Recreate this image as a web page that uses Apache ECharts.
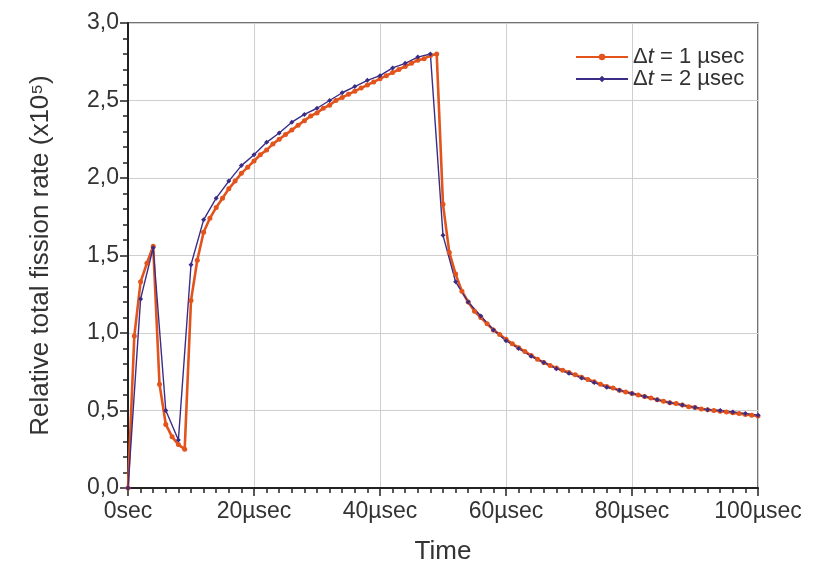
<!DOCTYPE html>
<html>
<head>
<meta charset="utf-8">
<script src="https://cdn.jsdelivr.net/npm/echarts@6/dist/echarts.min.js"></script>
<style>
html,body{margin:0;padding:0;background:#fff;}
#main{width:838px;height:565px;}
</style>
</head>
<body>
<div id="main"></div>
<script>
// dt = 1 usec, one value per usec from 0 to 100
var rate1 = [0, 0.98, 1.33, 1.45, 1.56, 0.67, 0.41, 0.33, 0.28, 0.25,
    1.21, 1.47, 1.65, 1.74, 1.81, 1.87, 1.93, 1.98, 2.03, 2.07,
    2.11, 2.15, 2.18, 2.22, 2.25, 2.28, 2.31, 2.34, 2.37, 2.40,
    2.42, 2.45, 2.47, 2.50, 2.52, 2.54, 2.56, 2.58, 2.60, 2.62,
    2.64, 2.66, 2.68, 2.70, 2.72, 2.74, 2.76, 2.77, 2.79, 2.80,
    1.83, 1.52, 1.38, 1.27, 1.20, 1.14, 1.10, 1.06, 1.02, 0.99,
    0.96, 0.93, 0.905, 0.88, 0.855, 0.83, 0.81, 0.79, 0.775, 0.76,
    0.745, 0.73, 0.715, 0.70, 0.685, 0.67, 0.655, 0.645, 0.63, 0.62,
    0.61, 0.60, 0.59, 0.58, 0.57, 0.56, 0.55, 0.545, 0.535, 0.525,
    0.52, 0.51, 0.505, 0.50, 0.495, 0.49, 0.485, 0.48, 0.475, 0.47,
    0.465];
// dt = 2 usec, one value every 2 usec from 0 to 100
var rate2 = [0, 1.22, 1.55, 0.50, 0.31, 1.44, 1.73, 1.87, 1.98, 2.08,
    2.15, 2.23, 2.29, 2.36, 2.41, 2.45, 2.50, 2.55, 2.59, 2.63,
    2.66, 2.71, 2.74, 2.78, 2.80, 1.63, 1.33, 1.20, 1.11, 1.02,
    0.95, 0.90, 0.85, 0.81, 0.77, 0.74, 0.71, 0.68, 0.65, 0.63,
    0.61, 0.59, 0.57, 0.55, 0.535, 0.52, 0.505, 0.50, 0.49, 0.48,
    0.47];
var step1 = 1, step2 = 2;
var names = ['dt1', 'dt2'];
var legendText = {dt1: '{a|\u0394}{i|t}{a| = 1 \u00b5sec}', dt2: '{a|\u0394}{i|t}{a| = 2 \u00b5sec}'};
var colors = ['#e2541c', '#3b2c86'];

function toPairs(vals, step) {
    var out = [];
    for (var i = 0; i < vals.length; i++) {
        out.push([i * step, vals[i]]);
    }
    return out;
}

var font = 'Liberation Sans';
var myChart = echarts.init(document.getElementById('main'));
var option = {
    backgroundColor: '#fff',
    animation: false,
    textStyle: {fontFamily: font},
    grid: {
        left: 128, right: 80, top: 23, bottom: 77,
        outerBoundsMode: 'none',
        show: true, borderColor: '#444', borderWidth: 1.5
    },
    legend: {
        orient: 'vertical',
        left: 570, top: 41,
        itemWidth: 52, itemHeight: 8, itemGap: 0,
        data: names,
        formatter: function (n) { return legendText[n]; },
        textStyle: {
            fontSize: 22, color: '#333', lineHeight: 21,
            rich: {
                a: {fontSize: 22, color: '#333', fontFamily: font, lineHeight: 21},
                i: {fontSize: 22, color: '#333', fontStyle: 'italic', fontFamily: font, lineHeight: 21}
            }
        }
    },
    xAxis: {
        type: 'value', min: 0, max: 100, interval: 20,
        name: 'Time', nameLocation: 'middle', nameGap: 51,
        nameTextStyle: {fontSize: 26, color: '#333'},
        axisLine: {lineStyle: {color: '#222', width: 2}},
        axisTick: {show: true, inside: false, length: 8, lineStyle: {color: '#222', width: 1.5}},
        minorTick: {show: true, splitNumber: 10, length: 5, lineStyle: {color: '#222', width: 1.5}},
        axisLabel: {
            fontSize: 23, color: '#333', margin: 12,
            formatter: function (v) { return v === 0 ? '0sec' : v + '\u00b5sec'; }
        },
        splitLine: {show: true, lineStyle: {color: '#cfcfcf', width: 1}}
    },
    yAxis: {
        type: 'value', min: 0, max: 3, interval: 0.5,
        name: 'Relative total fission rate (x10\u2075)', nameLocation: 'middle', nameGap: 74,
        nameTextStyle: {fontSize: 26, color: '#333'},
        axisLine: {show: true, lineStyle: {color: '#222', width: 2}},
        axisTick: {show: true, inside: false, length: 8, lineStyle: {color: '#222', width: 1.5}},
        minorTick: {show: true, splitNumber: 5, length: 5, lineStyle: {color: '#222', width: 1.5}},
        axisLabel: {
            fontSize: 23, color: '#333', margin: 9,
            formatter: function (v) { return v.toFixed(1).replace('.', ','); }
        },
        splitLine: {show: true, lineStyle: {color: '#cfcfcf', width: 1}}
    },
    series: [
        {
            name: 'dt1', type: 'line', data: toPairs(rate1, step1),
            symbol: 'circle', symbolSize: 5, color: colors[0],
            lineStyle: {width: 2.6, color: colors[0]},
            itemStyle: {color: colors[0]}
        },
        {
            name: 'dt2', type: 'line', data: toPairs(rate2, step2),
            symbol: 'diamond', symbolSize: 5, color: colors[1],
            lineStyle: {width: 1.4, color: colors[1]},
            itemStyle: {color: colors[1]}
        }
    ]
};
myChart.setOption(option);
</script>
</body>
</html>
